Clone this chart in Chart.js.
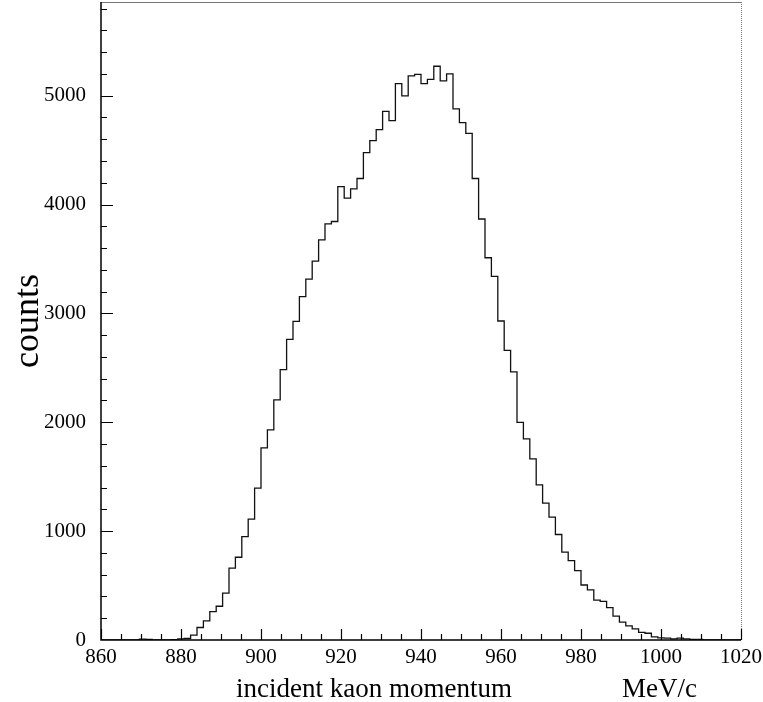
<!DOCTYPE html>
<html>
<head>
<meta charset="utf-8">
<script src="https://cdn.jsdelivr.net/npm/chart.js@4/dist/chart.umd.min.js"></script>
<style>
    html, body { margin: 0; padding: 0; background: #fff; }
    #wrap { width: 763px; height: 702px; position: relative; }
</style>
</head>
<body>
<div id="wrap"><canvas id="kaonChart" width="763" height="702"></canvas></div>
<script>
// Histogram data
const binStart = 860;   // first bin edge (MeV/c)
const binWidth = 1.6;   // 100 bins between 860 and 1020
const counts = [
    0, 0, 0, 0, 0, 2, 8, 6, 2, 0,
    1, 3, 10, 14, 45, 115, 175, 260, 310, 430,
    660, 760, 950, 1110, 1395, 1765, 1930, 2205, 2483, 2761,
    2926, 3153, 3315, 3480, 3676, 3822, 3844, 4165, 4058, 4144,
    4239, 4477, 4586, 4688, 4856, 4770, 5110, 4997, 5181, 5196,
    5110, 5150, 5270, 5135, 5200, 4878, 4752, 4654, 4239, 3867,
    3511, 3339, 2930, 2661, 2462, 1998, 1847, 1664, 1425, 1257,
    1128, 969, 807, 729, 638, 505, 460, 367, 355, 297,
    220, 165, 130, 102, 70, 62, 29, 20, 18, 11,
    18, 10, 6, 5, 0, 0, 0, 0, 0, 0
];
const xTickLabels = [860, 880, 900, 920, 940, 960, 980, 1000, 1020];
const yTickLabels = [0, 1000, 2000, 3000, 4000, 5000];
const yTitle = 'counts';
const xTitle = 'incident kaon momentum';
const xUnit = 'MeV/c';

const serif = "'Liberation Serif', 'DejaVu Serif', serif";

// step points: one per bin edge, last one closes the final bin
const points = counts.map((c, i) => ({ x: binStart + binWidth * i, y: c }));
points.push({ x: binStart + binWidth * counts.length, y: counts[counts.length - 1] });

// no extra padding from the tick labels, so the plot box stays fixed
function fixBox(s, size) {
    if (s.isHorizontal()) s.height = size; else s.width = size;
    s.paddingTop = 0;
    s.paddingBottom = 0;
    s.paddingLeft = 0;
    s.paddingRight = 0;
}

// frame, inner ticks and axis titles
const framePlugin = {
    id: 'frame',
    afterDraw(chart) {
        const ctx = chart.ctx;
        const a = chart.chartArea;
        const xs = chart.scales.x;
        const ys = chart.scales.y;
        ctx.save();

        // top and right border (grey)
        ctx.strokeStyle = '#777';
        ctx.lineWidth = 1;
        ctx.beginPath();
        ctx.moveTo(a.left, a.top + 0.5);
        ctx.lineTo(a.right, a.top + 0.5);
        ctx.stroke();
        ctx.setLineDash([1, 1]);
        ctx.beginPath();
        ctx.moveTo(a.right + 0.5, a.top);
        ctx.lineTo(a.right + 0.5, a.bottom);
        ctx.stroke();
        ctx.setLineDash([]);

        // left and bottom axes
        ctx.strokeStyle = '#000';
        ctx.lineWidth = 1.5;
        ctx.beginPath();
        ctx.moveTo(a.left, a.top);
        ctx.lineTo(a.left, a.bottom);
        ctx.lineTo(a.right, a.bottom);
        ctx.stroke();

        // ticks pointing inward
        ctx.lineWidth = 1.2;
        ctx.beginPath();
        for (let v = 860; v <= 1020; v += 5) {
            const px = Math.round(xs.getPixelForValue(v)) + 0.5;
            const len = v % 20 === 0 ? 11 : 6;
            ctx.moveTo(px, a.bottom);
            ctx.lineTo(px, a.bottom - len);
        }
        for (let v = 200; v <= 5800; v += 200) {
            const py = Math.round(ys.getPixelForValue(v)) + 0.5;
            const len = v % 1000 === 0 ? 12 : 6;
            ctx.moveTo(a.left, py);
            ctx.lineTo(a.left + len, py);
        }
        ctx.stroke();

        // titles
        ctx.fillStyle = '#000';
        ctx.font = '27px ' + serif;
        ctx.textBaseline = 'alphabetic';
        ctx.textAlign = 'left';
        ctx.fillText(xTitle, 236, 697);
        ctx.fillText(xUnit, 622, 697);

        ctx.save();
        ctx.translate(38, 321);
        ctx.rotate(-Math.PI / 2);
        ctx.textAlign = 'center';
        ctx.font = '36px ' + serif;
        ctx.fillText(yTitle, 0, 0);
        ctx.restore();

        ctx.restore();
    }
};

new Chart(document.getElementById('kaonChart'), {
    type: 'line',
    data: {
        datasets: [{
            data: points,
            stepped: 'before', // horizontal at the bin value, then vertical at the next edge
            borderColor: '#111',
            borderWidth: 1.3,
            pointRadius: 0,
            fill: false
        }]
    },
    options: {
        responsive: false,
        animation: false,
        events: [],
        layout: { padding: { top: 2, right: 22, left: 0, bottom: 0 } },
        plugins: { legend: { display: false }, tooltip: { enabled: false } },
        scales: {
            x: {
                type: 'linear',
                min: 860,
                max: 1020,
                afterFit: s => fixBox(s, 62),
                afterBuildTicks: s => { s.ticks = xTickLabels.map(v => ({ value: v })); },
                grid: { display: false, drawTicks: false },
                border: { display: false },
                ticks: {
                    color: '#000',
                    font: { family: serif, size: 21 },
                    padding: 5,
                    maxRotation: 0,
                    autoSkip: false,
                    callback: v => String(v)
                }
            },
            y: {
                min: 0,
                max: 5860,
                afterFit: s => fixBox(s, 101),
                afterBuildTicks: s => { s.ticks = yTickLabels.map(v => ({ value: v })); },
                grid: { display: false, drawTicks: false },
                border: { display: false },
                ticks: {
                    color: '#000',
                    font: { family: serif, size: 21 },
                    padding: 15,
                    callback: v => String(v)
                }
            }
        }
    },
    plugins: [framePlugin]
});
</script>
</body>
</html>
